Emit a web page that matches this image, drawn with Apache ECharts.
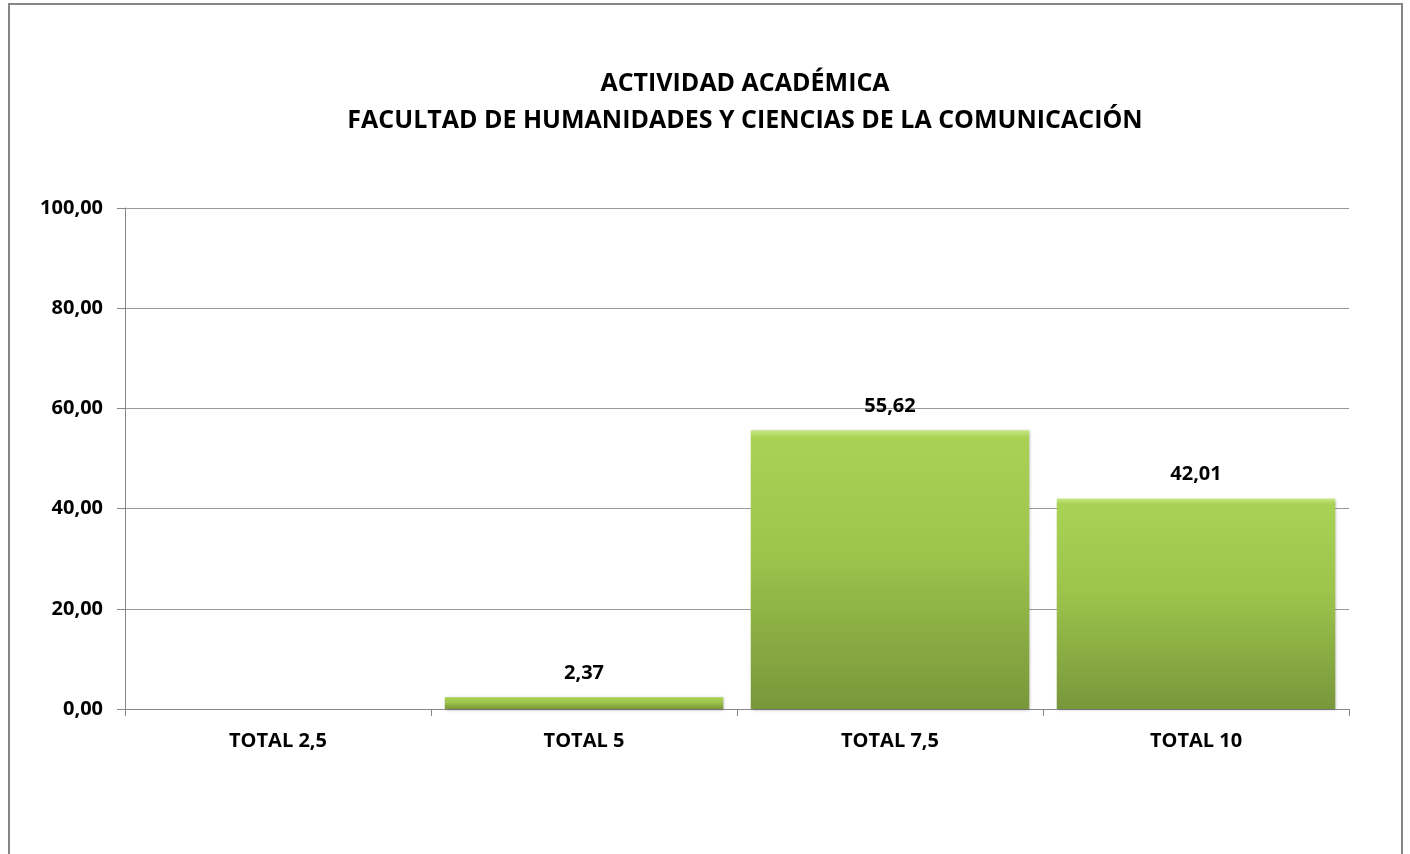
<!DOCTYPE html>
<html>
<head>
<meta charset="utf-8">
<script src="https://cdn.jsdelivr.net/npm/echarts@6/dist/echarts.min.js"></script>
<style>
html,body{margin:0;padding:0;background:#fff;}
#chart{width:1410px;height:854px;}
</style>
</head>
<body>
<div id="chart"></div>
<script>
const titleLines = ['ACTIVIDAD ACADÉMICA', 'FACULTAD DE HUMANIDADES Y CIENCIAS DE LA COMUNICACIÓN'];
const categories = ['TOTAL 2,5', 'TOTAL 5', 'TOTAL 7,5', 'TOTAL 10'];
const values = [0, 2.37, 55.62, 42.01];
const yMin = 0, yMax = 100, yStep = 20;

const fmt = v => v.toFixed(2).replace('.', ',');
const FONT = '"Open Sans", "Noto Sans", sans-serif';

const chart = echarts.init(document.getElementById('chart'));
chart.setOption({
  animation: false,
  backgroundColor: '#fff',
  title: {
    text: titleLines.join('\n'),
    left: 740, top: 60, textAlign: 'center',
    textStyle: { fontFamily: FONT, fontWeight: 'bold', fontSize: 25, lineHeight: 37, color: '#000' }
  },
  graphic: [{
    type: 'rect', shape: { x: 9, y: 4, width: 1393, height: 870 },
    style: { fill: 'none', stroke: '#868686', lineWidth: 2 }, silent: true, z: 100
  }],
  grid: { left: 125, right: 61, top: 208, bottom: 145, containLabel: false },
  xAxis: {
    type: 'category', data: categories,
    axisLine: { lineStyle: { color: '#888', width: 1 } },
    axisTick: { show: true, length: 7, lineStyle: { color: '#888' } },
    axisLabel: { margin: 22, fontFamily: FONT, fontWeight: 'bold', fontSize: 20, color: '#000' }
  },
  yAxis: {
    type: 'value', min: yMin, max: yMax, interval: yStep,
    axisLine: { show: true, lineStyle: { color: '#888', width: 1 } },
    axisTick: { show: true, length: 8, lineStyle: { color: '#888' } },
    splitLine: { lineStyle: { color: '#9a9a9a', width: 1 } },
    axisLabel: { margin: 22, formatter: v => fmt(v), fontFamily: FONT, fontWeight: 'bold', fontSize: 20, color: '#000' }
  },
  series: [{
    type: 'bar', data: values, barCategoryGap: '9%',
    itemStyle: {
      color: new echarts.graphic.LinearGradient(0, 0, 0, 1, [
        { offset: 0, color: '#c8e884' },
        { offset: 0.025, color: '#a9d255' },
        { offset: 0.45, color: '#9dc34c' },
        { offset: 1, color: '#78973a' }
      ]),
      borderWidth: 0,
      shadowColor: 'rgba(0,0,0,0.3)', shadowBlur: 3, shadowOffsetX: 1, shadowOffsetY: 1
    },
    label: {
      show: true, position: 'top', distance: 14,
      formatter: p => p.value > 0 ? fmt(p.value) : '',
      fontFamily: FONT, fontWeight: 'bold', fontSize: 20, color: '#000'
    }
  }]
});
</script>
</body>
</html>
